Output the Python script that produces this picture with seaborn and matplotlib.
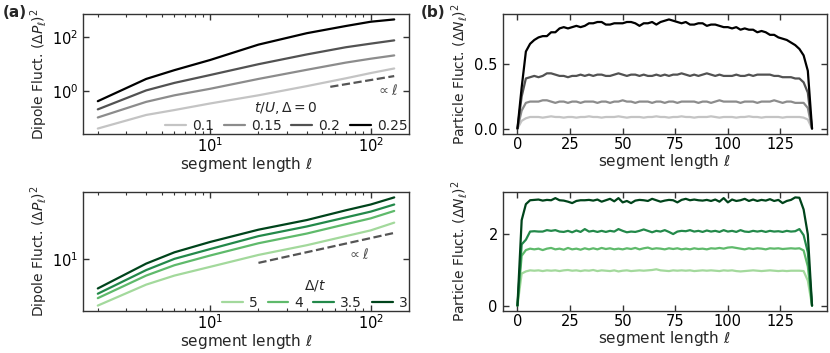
import numpy as np
import pandas as pd
import matplotlib
matplotlib.use('Agg')
import matplotlib.pyplot as plt
import seaborn as sns
from matplotlib.ticker import NullLocator, FixedLocator

# Segment lengths
seg_log = [2, 4, 6, 10, 20, 40, 70, 100, 140]
seg_lin = list(range(0, 141, 2))

# (a) top: dipole fluctuations, Delta = 0, labelled by t/U
tU_labels = ['0.1', '0.15', '0.2', '0.25']
dip_tU_01 = [0.042, 0.134, 0.204, 0.357, 0.717, 1.57, 3.06, 4.79, 7.08]
dip_tU_015 = [0.108, 0.41, 0.717, 1.25, 2.90, 6.33, 11.7, 16.3, 21.6]
dip_tU_02 = [0.216, 1.09, 2.07, 4.05, 10.2, 23.5, 43.4, 59.0, 78.0]
dip_tU_025 = [0.434, 2.90, 6.15, 14.6, 54.3, 144.0, 266.0, 383.0, 466.0]

# (a) bottom: dipole fluctuations, labelled by Delta/t
Dt_labels = ['5', '4', '3.5', '3']
dip_Dt_5 = [0.50, 1.95, 3.51, 6.18, 13.4, 25.2, 45.4, 66.0, 109.0]
dip_Dt_4 = [0.81, 3.51, 6.87, 12.9, 28.6, 53.7, 98.6, 144.0, 233.0]
dip_Dt_35 = [1.08, 5.01, 10.4, 19.6, 45.4, 85.0, 153.0, 223.0, 354.0]
dip_Dt_3 = [1.52, 7.63, 15.9, 31.1, 69.0, 129.0, 243.0, 354.0, 561.0]

# guide lines "prop. to l"
guide_top_x = [56, 140]
guide_top_y = [1.48, 3.7]
guide_bot_x = [20, 140]
guide_bot_y = [8.0, 56.0]

# (b) top: particle fluctuations, labelled by t/U
par_tU_01 = [0.0, 0.06, 0.08, 0.09, 0.09, 0.09, 0.085, 0.09, 0.095, 0.09,
             0.09, 0.085, 0.09, 0.09, 0.085, 0.09, 0.09, 0.095, 0.09, 0.09,
             0.085, 0.09, 0.09, 0.09, 0.095, 0.09, 0.085, 0.09, 0.09, 0.09,
             0.085, 0.09, 0.09, 0.095, 0.09, 0.09, 0.085, 0.09, 0.09, 0.095,
             0.09, 0.09, 0.085, 0.09, 0.09, 0.09, 0.095, 0.09, 0.085, 0.09,
             0.09, 0.09, 0.085, 0.09, 0.09, 0.095, 0.09, 0.09, 0.085, 0.09,
             0.09, 0.09, 0.09, 0.085, 0.09, 0.09, 0.09, 0.09, 0.085, 0.07, 0.0]
par_tU_015 = [0.0, 0.14, 0.20, 0.21, 0.21, 0.21, 0.22, 0.22, 0.21, 0.20,
              0.21, 0.21, 0.20, 0.21, 0.21, 0.20, 0.21, 0.21, 0.21, 0.20,
              0.21, 0.21, 0.20, 0.21, 0.21, 0.22, 0.21, 0.21, 0.20, 0.21,
              0.21, 0.21, 0.20, 0.21, 0.21, 0.20, 0.21, 0.21, 0.20, 0.21,
              0.21, 0.21, 0.21, 0.20, 0.21, 0.21, 0.20, 0.21, 0.22, 0.21,
              0.21, 0.21, 0.21, 0.20, 0.21, 0.21, 0.21, 0.20, 0.21, 0.21,
              0.21, 0.22, 0.21, 0.20, 0.21, 0.21, 0.20, 0.20, 0.20, 0.16, 0.0]
par_tU_02 = [0.0, 0.25, 0.39, 0.40, 0.41, 0.40, 0.41, 0.43, 0.43, 0.42,
             0.41, 0.41, 0.40, 0.41, 0.41, 0.42, 0.41, 0.42, 0.41, 0.42,
             0.42, 0.41, 0.41, 0.42, 0.43, 0.42, 0.41, 0.42, 0.42, 0.41,
             0.42, 0.41, 0.41, 0.42, 0.41, 0.42, 0.41, 0.42, 0.42, 0.43,
             0.42, 0.41, 0.42, 0.41, 0.42, 0.43, 0.42, 0.41, 0.42, 0.41,
             0.41, 0.41, 0.42, 0.41, 0.41, 0.42, 0.41, 0.42, 0.42, 0.42,
             0.42, 0.41, 0.41, 0.40, 0.40, 0.40, 0.39, 0.39, 0.36, 0.28, 0.0]
par_tU_025 = [0.0, 0.32, 0.60, 0.66, 0.69, 0.71, 0.72, 0.72, 0.75, 0.75,
              0.78, 0.79, 0.78, 0.79, 0.80, 0.79, 0.80, 0.82, 0.82, 0.83,
              0.83, 0.81, 0.81, 0.82, 0.82, 0.82, 0.83, 0.83, 0.82, 0.80,
              0.82, 0.82, 0.83, 0.81, 0.83, 0.84, 0.85, 0.84, 0.83, 0.82,
              0.83, 0.81, 0.81, 0.82, 0.82, 0.80, 0.81, 0.81, 0.80, 0.79,
              0.79, 0.78, 0.79, 0.77, 0.78, 0.77, 0.77, 0.75, 0.76, 0.75,
              0.73, 0.73, 0.71, 0.70, 0.69, 0.67, 0.65, 0.62, 0.57, 0.45, 0.0]

# (b) bottom: particle fluctuations, labelled by Delta/t
par_Dt_5 = [0.0, 0.90, 0.96, 0.99, 0.98, 0.99, 0.97, 0.99, 0.98, 0.99,
            0.97, 0.99, 1.00, 0.98, 0.99, 0.97, 0.99, 0.98, 1.00, 0.97,
            0.99, 0.98, 0.97, 0.99, 0.96, 0.98, 0.99, 0.97, 0.98, 0.99,
            0.98, 0.99, 1.00, 1.02, 0.99, 0.98, 0.97, 0.99, 0.98, 0.99,
            0.98, 0.99, 0.97, 0.98, 0.99, 0.98, 0.99, 0.98, 0.97, 0.99,
            0.98, 0.99, 0.97, 0.96, 0.97, 0.98, 0.99, 0.98, 0.97, 0.98,
            0.99, 0.98, 0.97, 0.98, 0.97, 0.98, 0.98, 0.98, 0.97, 0.70, 0.0]
par_Dt_4 = [0.0, 1.40, 1.56, 1.60, 1.58, 1.60, 1.56, 1.60, 1.62, 1.58,
            1.60, 1.57, 1.62, 1.58, 1.60, 1.57, 1.61, 1.58, 1.61, 1.58,
            1.62, 1.59, 1.61, 1.58, 1.60, 1.58, 1.61, 1.59, 1.62, 1.58,
            1.61, 1.63, 1.59, 1.61, 1.60, 1.58, 1.61, 1.59, 1.61, 1.58,
            1.60, 1.58, 1.61, 1.59, 1.60, 1.58, 1.61, 1.60, 1.62, 1.60,
            1.63, 1.64, 1.62, 1.60, 1.58, 1.61, 1.59, 1.61, 1.60, 1.58,
            1.61, 1.60, 1.61, 1.59, 1.60, 1.61, 1.60, 1.61, 1.55, 1.10, 0.0]
par_Dt_35 = [0.0, 1.72, 1.85, 2.08, 2.09, 2.08, 2.08, 2.12, 2.10, 2.12,
             2.08, 2.07, 2.10, 2.06, 2.11, 2.07, 2.15, 2.08, 2.10, 2.07,
             2.10, 2.07, 2.10, 2.08, 2.15, 2.10, 2.06, 2.08, 2.07, 2.10,
             2.14, 2.10, 2.06, 2.10, 2.08, 2.12, 2.07, 2.01, 2.08, 2.10,
             2.09, 2.12, 2.08, 2.10, 2.07, 2.11, 2.08, 2.10, 2.07, 2.12,
             2.08, 2.10, 2.07, 2.12, 2.08, 2.07, 2.10, 2.08, 2.10, 2.07,
             2.10, 2.08, 2.09, 2.07, 2.10, 2.08, 2.09, 2.15, 1.98, 1.50, 0.0]
par_Dt_3 = [0.0, 2.40, 2.85, 2.96, 2.97, 2.98, 2.95, 2.97, 2.96, 3.02,
            2.96, 2.95, 2.92, 2.88, 2.94, 2.96, 2.96, 2.97, 2.95, 2.98,
            2.92, 2.96, 3.00, 2.93, 3.02, 2.90, 2.94, 2.88, 2.95, 2.97,
            2.96, 2.94, 3.00, 2.96, 2.92, 2.95, 2.97, 2.96, 2.90, 2.97,
            3.00, 2.96, 2.98, 2.96, 2.95, 2.97, 2.94, 2.98, 2.92, 3.02,
            2.90, 2.98, 2.94, 2.96, 3.00, 2.94, 2.98, 2.94, 2.97, 2.95,
            2.99, 2.94, 2.97, 2.88, 2.94, 2.97, 3.04, 3.03, 2.70, 2.00, 0.0]

greys = ['#c4c4c4', '#8c8c8c', '#525252', '#000000']
greens = ['#a3d99c', '#5fba6b', '#23894a', '#00441b']


def long_df(x, labels, series):
    frames = [pd.DataFrame({'l': x, 'val': s, 'key': lab}) for lab, s in zip(labels, series)]
    return pd.concat(frames, ignore_index=True)


sns.set_style('ticks')
plt.rcParams['font.family'] = ['DejaVu Sans']
plt.rcParams['axes.edgecolor'] = '#333333'
plt.rcParams['xtick.color'] = '#333333'
plt.rcParams['ytick.color'] = '#333333'
plt.rcParams['xtick.labelcolor'] = 'black'
plt.rcParams['ytick.labelcolor'] = 'black'

fig = plt.figure(figsize=(8.3, 3.53), dpi=100)
ax_tl = fig.add_axes([0.100, 0.6204, 0.3928, 0.340])
ax_bl = fig.add_axes([0.100, 0.1190, 0.3928, 0.3371])
ax_tr = fig.add_axes([0.6057, 0.6204, 0.3904, 0.340])
ax_br = fig.add_axes([0.6057, 0.1190, 0.3904, 0.3371])

df_tl = long_df(seg_log, tU_labels, [dip_tU_01, dip_tU_015, dip_tU_02, dip_tU_025])
df_bl = long_df(seg_log, Dt_labels, [dip_Dt_5, dip_Dt_4, dip_Dt_35, dip_Dt_3])
df_tr = long_df(seg_lin, tU_labels, [par_tU_01, par_tU_015, par_tU_02, par_tU_025])
df_br = long_df(seg_lin, Dt_labels, [par_Dt_5, par_Dt_4, par_Dt_35, par_Dt_3])

for ax, df, labs, pal in [(ax_tl, df_tl, tU_labels, greys), (ax_bl, df_bl, Dt_labels, greens),
                          (ax_tr, df_tr, tU_labels, greys), (ax_br, df_br, Dt_labels, greens)]:
    sns.lineplot(data=df, x='l', y='val', hue='key', hue_order=labs, palette=pal,
                 lw=1.6, ax=ax, legend=(ax in (ax_tl, ax_bl)))

# log-log panels
for ax in (ax_tl, ax_bl):
    ax.set_xscale('log')
    ax.set_yscale('log')
    ax.yaxis.set_minor_locator(NullLocator())
    ax.set_ylabel(r'Dipole Fluct. $(\Delta P_\ell)^2$', fontsize=10)

ax_tl.plot(guide_top_x, guide_top_y, ls='--', color='#555555', lw=1.6)
ax_tl.text(127, 1.08, r'$\propto \ell$', color='#555555', fontsize=10, ha='center', va='center')
ax_bl.plot(guide_bot_x, guide_bot_y, ls='--', color='#555555', lw=1.6)
ax_bl.text(83, 13.4, r'$\propto \ell$', color='#555555', fontsize=10, ha='center', va='center')

ax_tl.yaxis.set_major_locator(FixedLocator([1, 100]))
ax_bl.yaxis.set_major_locator(FixedLocator([10]))

leg_kw = dict(loc='lower right', ncol=4, frameon=False, fontsize=10, title_fontsize=10,
              handlelength=1.5, columnspacing=0.7, handletextpad=0.45,
              borderaxespad=0.0, borderpad=0.1, labelspacing=0.2)
h, l = ax_tl.get_legend_handles_labels()
ax_tl.legend(h, l, title=r'$t/U, \Delta = 0$', **leg_kw)
h, l = ax_bl.get_legend_handles_labels()
ax_bl.legend(h, l, title=r'$\Delta/t$', **leg_kw)

# linear panels
for ax in (ax_tr, ax_br):
    ax.set_xticks([0, 25, 50, 75, 100, 125])
    ax.set_ylabel(r'Particle Fluct. $(\Delta N_\ell)^2$', fontsize=10)
ax_tr.set_yticks([0.0, 0.5])
ax_tr.set_yticklabels(['0.0', '0.5'])
ax_br.set_yticks([0, 2])

for ax in (ax_tl, ax_bl, ax_tr, ax_br):
    ax.set_xlabel(r'segment length $\ell$', fontsize=11, labelpad=0)
    ax.tick_params(which='both', direction='in', top=True, right=True, labelsize=10.5)
    ax.tick_params(axis='x', which='both', pad=2)
    ax.tick_params(which='major', length=4, width=1)
    ax.tick_params(which='minor', length=2, width=0.8)
    ax.yaxis.set_label_coords(-0.1, 0.5)
    for s in ax.spines.values():
        s.set_linewidth(1.0)

fig.text(0.003, 0.965, '(a)', fontsize=11, fontweight='bold', va='center')
fig.text(0.507, 0.965, '(b)', fontsize=11, fontweight='bold', va='center')

fig.savefig('out.png', dpi=100)
